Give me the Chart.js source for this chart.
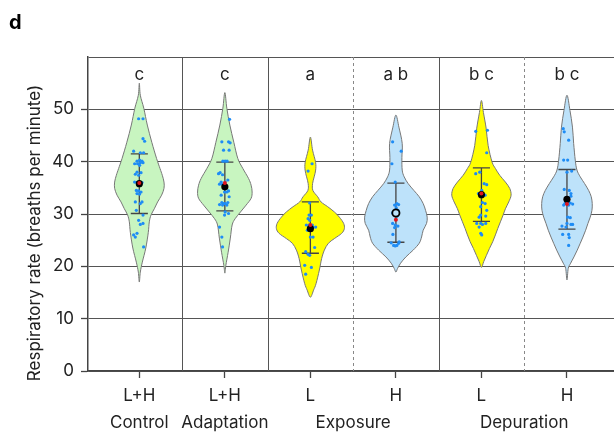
<!DOCTYPE html>
<html><head><meta charset="utf-8">
<script src="https://cdn.jsdelivr.net/npm/chart.js@4.4.1/dist/chart.umd.min.js"></script>
<style>html,body{margin:0;padding:0;background:#fff;}</style>
</head><body>
<canvas id="c" width="614" height="432"></canvas>
<script>
// ---- data ----
const tickPositions = [1, 2, 3, 4, 5, 6];
const tickLabels = ['L+H', 'L+H', 'L', 'H', 'L', 'H'];
const groupPositions = [1, 2, 3.5, 5.5];
const groupLabels = ['Control', 'Adaptation', 'Exposure', 'Depuration'];
const letters = ['c', 'c', 'a', 'a b', 'b c', 'b c'];
const yTicks = [0, 10, 20, 30, 40, 50];

const meanValues = [35.8, 35.2, 27.2, 30.2, 33.7, 32.8];
const medianValues = [35.9, 35.9, 27.9, 28.9, 33.9, 31.9];
const upperValues = [41.5, 39.9, 32.3, 35.9, 38.8, 38.5];
const lowerValues = [30.1, 30.6, 22.5, 24.6, 28.6, 27.1];

// violin outlines: levels (y values) and half-width density (px at reference scale)
const violinLevels = [
  [55, 52.7, 50.2, 47, 43.7, 40.6, 38.7, 37.4, 36.1, 34.9, 33.6, 32.3, 31.0, 29.8, 28.5, 26.5, 23.5, 20.8, 18.9, 17],
  [53.2, 50.2, 47, 43.7, 40.6, 38.7, 36.8, 35.5, 34.2, 33.0, 31.7, 30.4, 29.1, 27.9, 25.4, 22.7, 20.2, 18.7],
  [44.7, 42.2, 39.9, 38.4, 37.1, 35.8, 34.5, 33.3, 32.3, 31.4, 30.4, 29.4, 28.2, 27.2, 26.3, 25.3, 24.4, 23.1, 21.5, 19.3, 16.7, 15.5, 14.1],
  [48.9, 46.6, 43.5, 40.8, 38.4, 37.1, 35.8, 34.5, 33.3, 32.0, 30.7, 29.4, 28.2, 26.9, 25.6, 24.4, 23.1, 21.8, 20.6, 19.6, 18.9],
  [51.7, 49.4, 46.4, 43.1, 39.9, 38.7, 37.4, 36.1, 34.9, 33.6, 32.3, 31.0, 29.8, 28.5, 27.2, 26.0, 24.7, 23.4, 22.1, 20.9, 19.8],
  [52.7, 49.8, 46.6, 43.5, 40.3, 38.4, 37.1, 35.8, 34.5, 33.3, 32.0, 30.7, 29.4, 28.2, 26.9, 25.6, 24.4, 23.1, 21.8, 20.6, 19.6, 17.4]
];
const violinWidths = [
  [0, 1, 4.5, 8, 12.5, 17.3, 20.7, 23, 24.7, 24.7, 22.3, 18.3, 15, 11.7, 10, 9, 6.5, 3, 1, 0],
  [0, 2, 5, 9, 13, 18, 23.7, 26.3, 27.3, 26.3, 21.3, 15.7, 10.3, 7.3, 5.5, 3.3, 1, 0],
  [0, 2.2, 5.2, 5.3, 3.8, 2.2, 2.5, 7.3, 10.7, 17.3, 24, 29, 33.3, 34, 31.3, 24, 18, 14, 11.3, 9, 5.7, 3.3, 0],
  [0, 3, 6.3, 6, 6.3, 8.3, 12.3, 18, 23.3, 27.3, 29.7, 31.3, 30.7, 27.3, 25.7, 23.3, 17.3, 10, 4.7, 1.7, 0],
  [0, 2, 4.7, 6.7, 10.7, 14, 18.3, 24, 28.3, 29.7, 27.3, 24, 21.7, 19, 16.3, 14, 11.3, 8, 5, 2.3, 0],
  [0, 3, 5.5, 6.7, 8.3, 10, 13.3, 17.7, 21.7, 24.3, 25.3, 25, 23.3, 21, 18.7, 16, 13.3, 10.3, 7, 3.7, 1.3, 0]
];

// individual animals (values) and their horizontal jitter (px at reference scale)
const controlValues = [48.2,48.2,44.4,43.9,42.0,41.7,41.7,40.1,40.3,40.1,39.6,39.6,39.8,39.8,39.3,38.0,37.9,37.6,37.4,36.1,36.0,36.0,34.5,34.4,34.2,33.9,33.8,32.3,32.0,32.3,30.7,29.8,28.8,28.0,28.2,26.0,25.6,26.3,23.7];
const controlJitter = [-0.7,3.7,3.7,5.3,-5.7,1,4.3,-2.3,0.3,2.7,-4.7,-1.7,1,3.7,0.3,-2.3,1.7,-4,-0.7,-4.7,-2.3,2.7,-3,-0.7,1.7,-2.3,0.3,-4,1,2.7,-3,3.7,-0.7,1,3.7,-5.7,-4,-2.3,4.3];
const adaptationValues = [48.1,43.8,43.8,43.6,42.2,42.2,40.1,40.1,40.1,37.9,37.5,37.7,36.1,36.1,36.5,35.7,35.7,34.2,34.2,34.4,33.6,33.3,32.2,32.0,32.0,32.2,31.8,31.7,31.7,30.4,30.1,29.8,27.5,25.6,23.7];
const adaptationJitter = [4.7,-3,3.7,5.3,-1.3,4.3,-2,0.3,2.3,-4.7,-2.3,-6.3,-3.7,0.3,3,-5.3,-2.3,-0.3,2,3.7,-3.7,4.3,-3,-1.3,0.3,3,-5.3,-2.3,2,0.3,3.7,-0.3,-5.3,-3,-2.3];
const exposureLValues = [39.6,38.2,32.1,29.8,29.8,29.1,28.8,27.9,27.9,27.9,26.9,27.4,27.5,27.0,25.6,25.6,23.6,22.8,22.3,22.1,20.2,19.8,18.5];
const exposureLJitter = [1.7,-2.3,-0.7,-1.3,1,-2.3,-0.7,-4,-1.3,2,-3,2.7,5.3,0,2.7,0,4.3,-4.7,-2.3,-0.7,-5.7,1,-4.7];
const exposureHValues = [43.8,42.0,39.6,36.1,32.0,31.7,31.8,31.2,30.7,30.2,30.1,29.6,28.2,27.9,27.7,27.4,26.1,24.5,24.0,24.0,24.4,24.7,23.9];
const exposureHJitter = [-3.3,5.3,-4,-0.7,1,-1.3,2.7,0.3,2,-3.3,-0.7,1,-3.3,-0.7,2,-1.3,-3,-4.7,-2.3,1,2.7,3.3,-0.7];
const depurationLValues = [45.8,46.0,41.7,37.7,38.0,35.8,35.6,34.5,33.9,33.6,33.6,32.2,32.0,31.4,30.7,29.8,29.6,29.4,28.2,28.2,28.0,28.2,27.5,26.3,26.0];
const depurationLJitter = [-5.7,6,5.3,-5.7,-1.7,2.7,5.3,0.3,-3,1,3.7,1,3.7,-0.7,5.3,-0.7,4.3,-2.3,-4.7,-0.7,1,4.3,-2.3,-0.7,0.3];
const depurationHValues = [46.3,45.7,44.1,40.3,40.3,38.2,38.0,34.7,34.5,33.9,33.4,32.0,32.3,32.1,31.9,31.7,31.7,29.4,29.3,28.2,28.0,28.0,27.7,27.5,26.1,26.1,25.5,24.0];
const depurationHJitter = [-3.7,-2.7,1.7,-3.3,0.7,4.7,0,-2.7,2.3,4,4,-2,0,3.3,5.7,-3.3,1.7,0.7,3.3,0,4,5.7,-5,-1,-4.3,1.7,2.3,1.7];

const solidDividers = [1.5, 2.5, 4.5];
const dashedDividers = [3.5, 5.5];

// ---- styling / build ----
const REF_PX_PER_CAT = 85.6;
const FONT = 'Inter, "DejaVu Sans", sans-serif';
const FS = 17;
const TEXT = '#222';
const GREEN = '#c8f5c0', YELLOW = '#ffff00', BLUE = '#bde2fa';
const violinFills = [GREEN, GREEN, YELLOW, BLUE, YELLOW, BLUE];

const groupValues = [controlValues, adaptationValues, exposureLValues, exposureHValues, depurationLValues, depurationHValues];
const groupJitter = [controlJitter, adaptationJitter, exposureLJitter, exposureHJitter, depurationLJitter, depurationHJitter];
const pointData = [];
groupValues.forEach((vals, g) => vals.forEach((v, k) => pointData.push({x: tickPositions[g] + groupJitter[g][k] / REF_PX_PER_CAT, y: v})));

function smoothClosed(ctx, pts) {
  const n = pts.length;
  ctx.moveTo(pts[0][0], pts[0][1]);
  for (let i = 0; i < n; i++) {
    const p0 = pts[(i - 1 + n) % n], p1 = pts[i], p2 = pts[(i + 1) % n], p3 = pts[(i + 2) % n];
    const c1x = p1[0] + (p2[0] - p0[0]) / 6, c1y = p1[1] + (p2[1] - p0[1]) / 6;
    const c2x = p2[0] - (p3[0] - p1[0]) / 6, c2y = p2[1] - (p3[1] - p1[1]) / 6;
    ctx.bezierCurveTo(c1x, c1y, c2x, c2y, p2[0], p2[1]);
  }
  ctx.closePath();
}

const violinPlugin = {
  id: 'violins',
  beforeDatasetsDraw(chart) {
    const {ctx, chartArea: a, scales: {x, y}} = chart;
    ctx.save();
    // dividers
    ctx.strokeStyle = '#555'; ctx.lineWidth = 1;
    solidDividers.forEach(v => { const px = Math.round(x.getPixelForValue(v)) + 0.5; ctx.beginPath(); ctx.moveTo(px, a.top); ctx.lineTo(px, a.bottom); ctx.stroke(); });
    ctx.strokeStyle = '#888'; ctx.setLineDash([3, 3]);
    dashedDividers.forEach(v => { const px = Math.round(x.getPixelForValue(v)) + 0.5; ctx.beginPath(); ctx.moveTo(px, a.top); ctx.lineTo(px, a.bottom); ctx.stroke(); });
    ctx.setLineDash([]);
    // violins
    violinLevels.forEach((lv, g) => {
      const c = tickPositions[g];
      const w = violinWidths[g];
      const right = lv.map((v, k) => [x.getPixelForValue(c + w[k] / REF_PX_PER_CAT), y.getPixelForValue(v)]);
      const left = [];
      for (let k = lv.length - 2; k >= 1; k--) left.push([x.getPixelForValue(c - w[k] / REF_PX_PER_CAT), y.getPixelForValue(lv[k])]);
      ctx.beginPath();
      smoothClosed(ctx, right.concat(left));
      ctx.fillStyle = violinFills[g];
      ctx.fill();
      ctx.strokeStyle = '#777'; ctx.lineWidth = 1;
      ctx.stroke();
    });
    // error bars
    ctx.strokeStyle = '#444'; ctx.lineWidth = 1.3;
    const capHalf = 0.1;
    upperValues.forEach((u, g) => {
      const c = tickPositions[g];
      const cx = x.getPixelForValue(c);
      const yu = y.getPixelForValue(u), yl = y.getPixelForValue(lowerValues[g]);
      ctx.beginPath();
      ctx.moveTo(cx, yu); ctx.lineTo(cx, yl);
      ctx.moveTo(x.getPixelForValue(c - capHalf), yu); ctx.lineTo(x.getPixelForValue(c + capHalf), yu);
      ctx.moveTo(x.getPixelForValue(c - capHalf), yl); ctx.lineTo(x.getPixelForValue(c + capHalf), yl);
      ctx.stroke();
    });
    ctx.restore();
  },
  afterDraw(chart) {
    const {ctx, scales: {x, y}} = chart;
    ctx.save();
    ctx.fillStyle = TEXT;
    ctx.font = FS + 'px ' + FONT;
    ctx.textAlign = 'center'; ctx.textBaseline = 'middle';
    letters.forEach((t, g) => ctx.fillText(t, x.getPixelForValue(tickPositions[g]), y.getPixelForValue(56.6)));
    // y title
    ctx.save();
    ctx.translate(35, 233);
    ctx.rotate(-Math.PI / 2);
    ctx.fillText('Respiratory rate (breaths per minute)', 0, 0);
    ctx.restore();
    // panel label
    ctx.font = 'bold 20px ' + FONT;
    ctx.textAlign = 'left'; ctx.textBaseline = 'alphabetic';
    ctx.fillStyle = '#000';
    ctx.fillText('d', 9, 29);
    ctx.restore();
  }
};

new Chart(document.getElementById('c'), {
  type: 'scatter',
  data: {
    datasets: [
      {label: 'median', data: medianValues.map((v, i) => ({x: tickPositions[i], y: v})), order: 0,
        pointRadius: 2, backgroundColor: '#e0141c', borderWidth: 0},
      {label: 'mean', data: meanValues.map((v, i) => ({x: tickPositions[i], y: v})), order: 1,
        pointRadius: 3.6,
        backgroundColor: c => c.dataIndex === 3 ? BLUE : '#000',
        borderColor: '#000',
        borderWidth: c => c.dataIndex === 3 ? 1.8 : 0},
      {label: 'animals', data: pointData, order: 2, pointRadius: 1.6, backgroundColor: '#1e8cf5', borderWidth: 0}
    ]
  },
  options: {
    responsive: false,
    animation: false,
    devicePixelRatio: 1,
    layout: {autoPadding: false, padding: {top: 57, left: 0, right: 0, bottom: 0}},
    plugins: {legend: {display: false}, tooltip: {enabled: false}},
    scales: {
      x: {
        type: 'linear', position: 'bottom', weight: 0, min: 0.4, max: 6.55,
        afterBuildTicks: s => { s.ticks = tickPositions.map(v => ({value: v})); },
        afterFit: s => { s.height = 35; },
        ticks: {autoSkip: false, maxRotation: 0, padding: 8, color: TEXT, font: {family: FONT, size: FS},
          callback: (v, i) => tickLabels[i]},
        grid: {drawOnChartArea: false, drawTicks: true, tickLength: 7, tickColor: '#444', tickWidth: 1.3},
        border: {display: true, color: '#444', width: 1.5}
      },
      x2: {
        type: 'linear', position: 'bottom', weight: 1, min: 0.4, max: 6.55,
        afterBuildTicks: s => { s.ticks = groupPositions.map(v => ({value: v})); },
        afterFit: s => { s.height = 26; },
        ticks: {autoSkip: false, maxRotation: 0, padding: 7, color: TEXT, font: {family: FONT, size: FS},
          callback: (v, i) => groupLabels[i]},
        grid: {display: false, drawTicks: false},
        border: {display: false}
      },
      y: {
        type: 'linear', min: 0, max: 60,
        afterBuildTicks: s => { s.ticks = yTicks.concat([60]).map(v => ({value: v})); },
        afterFit: s => { s.width = 88; },
        ticks: {padding: 7, color: TEXT, font: {family: FONT, size: FS},
          callback: v => yTicks.includes(v) ? String(v) : ''},
        grid: {color: '#555', lineWidth: 1, drawTicks: true, tickLength: 7,
          tickColor: c => (c.tick && c.tick.value === 60) ? 'rgba(0,0,0,0)' : '#444', tickWidth: 1.3},
        border: {display: true, color: '#444', width: 1.5}
      }
    }
  },
  plugins: [violinPlugin]
});
</script>
</body></html>
